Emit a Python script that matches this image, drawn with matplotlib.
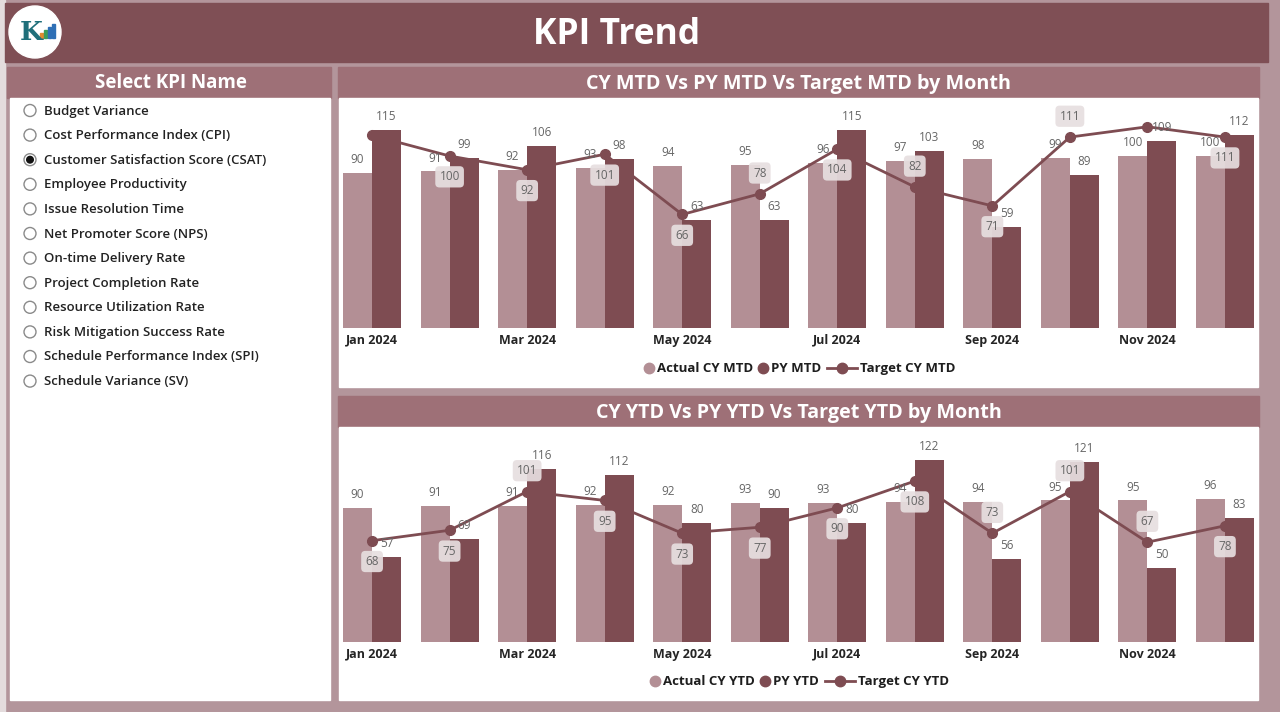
import numpy as np
import matplotlib
matplotlib.use("Agg")
import matplotlib.pyplot as plt
from matplotlib.patches import Rectangle, Circle

W, H = 1280, 712

# Date
months = ["Jan", "Feb", "Mar", "Apr", "May", "Jun",
          "Jul", "Aug", "Sep", "Oct", "Nov", "Dec"]
tick_months = ["Jan 2024", "Mar 2024", "May 2024", "Jul 2024", "Sep 2024", "Nov 2024"]

mtd_actual = [90, 91, 92, 93, 94, 95, 96, 97, 98, 99, 100, 100]
mtd_py = [115, 99, 106, 98, 63, 63, 115, 103, 59, 89, 109, 112]
mtd_target = [112, 100, 92, 101, 66, 78, 104, 82, 71, 111, 117, 111]

ytd_actual = [90, 91, 91, 92, 92, 93, 93, 94, 94, 95, 95, 96]
ytd_py = [57, 69, 116, 112, 80, 90, 80, 122, 56, 121, 50, 83]
ytd_target = [68, 75, 101, 95, 73, 77, 90, 108, 73, 101, 67, 78]

kpi_names = [
    "Budget Variance", "Cost Performance Index (CPI)",
    "Customer Satisfaction Score (CSAT)", "Employee Productivity",
    "Issue Resolution Time", "Net Promoter Score (NPS)",
    "On-time Delivery Rate", "Project Completion Rate",
    "Resource Utilization Rate", "Risk Mitigation Success Rate",
    "Schedule Performance Index (SPI)", "Schedule Variance (SV)",
]
selected_kpi = 2

# pozitia etichetelor target: 1 = sub punct, -1 = deasupra, 0 = ascunsa
mtd_lbl_pos = [0, 1, 1, 1, 1, -1, 1, -1, 1, -1, 0, 1]
ytd_lbl_pos = [1, 1, -1, 1, 1, 1, 1, 1, -1, -1, -1, 1]

# Culori
BG = "#B3959B"
HEADER = "#7F4F55"
BAR_TITLE = "#9E7077"
LIGHT = "#B38F95"
DARK = "#7E4C52"
FONT = "Open Sans"

plt.rcParams["font.family"] = [FONT, "DejaVu Sans"]

fig = plt.figure(figsize=(W / 100, H / 100), dpi=100)
fig.patch.set_facecolor(BG)
renderer = fig.canvas.get_renderer()


def box(x0, y0, x1, y1):
    return [x0 / W, 1 - y1 / H, (x1 - x0) / W, (y1 - y0) / H]


# Strat de fundal in coordonate pixel
bg = fig.add_axes([0, 0, 1, 1], zorder=0)
bg.set_xlim(0, W)
bg.set_ylim(H, 0)
bg.axis("off")

bg.add_patch(Rectangle((0, 0), 5, H, color="#E4DCDD"))
bg.add_patch(Rectangle((5, 3), 1263, 59, color=HEADER))
bg.text(617, 35, "KPI Trend", color="white", fontsize=25.5, fontweight="bold",
        ha="center", va="center")

# logo
bg.add_patch(Circle((35, 32), 26, color="white"))
bg.text(31, 32, "K", color="#1F6F7A", fontsize=19, fontweight="bold",
        ha="center", va="center", family="DejaVu Serif")
for i, (hh, c) in enumerate(zip([5, 8, 11, 14], ["#E08A2E", "#3B9E5A", "#2E6FB5", "#2E6FB5"])):
    bg.add_patch(Rectangle((40 + i * 4, 38 - hh), 3, hh, color=c))

# panou stanga
bg.add_patch(Rectangle((7, 67), 324, 31, color=BAR_TITLE))
bg.add_patch(Rectangle((10, 98), 320, 602, color="white"))
bg.text(171, 83, "Select KPI Name", color="white", fontsize=13.5, fontweight="bold",
        ha="center", va="center")
for i, name in enumerate(kpi_names):
    y = 110.5 + i * 24.6
    bg.add_patch(Circle((30, y), 6, fc="white", ec="#8A8A8A", lw=1))
    if i == selected_kpi:
        bg.add_patch(Circle((30, y), 3.3, color="#111111"))
    bg.text(44, y + 0.5, name, color="#222222", fontsize=9.5, fontweight="semibold",
            ha="left", va="center")

# panouri grafice
panels = [
    (67, 388, "CY MTD Vs PY MTD Vs Target MTD by Month"),
    (396, 701, "CY YTD Vs PY YTD Vs Target YTD by Month"),
]
for y0, y1, title in panels:
    bg.add_patch(Rectangle((338, y0), 921, 31, color=BAR_TITLE))
    bg.add_patch(Rectangle((339, y0 + 31), 919, y1 - y0 - 32, color="white"))
    bg.text(799, y0 + 17, title, color="white", fontsize=14.2, fontweight="bold",
            ha="center", va="center")


def draw_legend(names, x_start, y):
    # legenda desenata manual: cerc, cerc, linie cu marker
    x = x_start
    for k, name in enumerate(names):
        if k < 2:
            col = LIGHT if k == 0 else DARK
            bg.plot([x + 5], [y], marker="o", ms=7.5, color=col, ls="none")
            x += 13
        else:
            bg.plot([x + 1, x + 31], [y, y], color=DARK, lw=2)
            bg.plot([x + 16], [y], marker="o", ms=7.5, color=DARK)
            x += 34
        t = bg.text(x, y + 0.5, name, fontsize=9.5, fontweight="bold", color="#1E1E1E",
                    ha="left", va="center")
        ext = t.get_window_extent(renderer)
        x += ext.width + 5


def draw_chart(ax, actual, py, target, lbl_pos):
    x = np.arange(len(months))
    ax.bar(x - 0.1875, actual, width=0.375, color=LIGHT, zorder=1)
    ax.bar(x + 0.1875, py, width=0.375, color=DARK, zorder=1)
    ax.plot(x, target, color=DARK, lw=2, marker="o", ms=7, zorder=3)

    for i in range(len(months)):
        ax.annotate(str(actual[i]), (x[i] - 0.1875, actual[i]), xytext=(0, 5),
                    textcoords="offset points", ha="center", va="bottom",
                    fontsize=8.5, color="#666666", zorder=4)
        ax.annotate(str(py[i]), (x[i] + 0.1875, py[i]), xytext=(0, 5),
                    textcoords="offset points", ha="center", va="bottom",
                    fontsize=8.5, color="#666666", zorder=4)
        if lbl_pos[i] != 0:
            ax.annotate(str(target[i]), (x[i], target[i]), xytext=(0, -15 * lbl_pos[i]),
                        textcoords="offset points", ha="center", va="center",
                        fontsize=8.5, color="#666666", zorder=5,
                        bbox=dict(boxstyle="round,pad=0.35", fc="#E7DFE0",
                                  ec="none", alpha=0.92))

    ax.set_xlim(-0.375, 11.375)
    ax.set_xticks(x[::2])
    ax.set_xticklabels(tick_months, fontsize=9, fontweight="bold", color="#252525")
    ax.tick_params(length=0, pad=4)
    ax.set_yticks([])
    for s in ax.spines.values():
        s.set_visible(False)
    ax.patch.set_visible(False)


ax1 = fig.add_axes(box(343, 100, 1254, 328), zorder=2)
ax1.set_ylim(0, (328 - 100) / 1.72)
draw_chart(ax1, mtd_actual, mtd_py, mtd_target, mtd_lbl_pos)
draw_legend(["Actual CY MTD", "PY MTD", "Target CY MTD"], 644, 368)

ax2 = fig.add_axes(box(343, 430, 1254, 642), zorder=2)
ax2.set_ylim(0, (642 - 430) / 1.49)
draw_chart(ax2, ytd_actual, ytd_py, ytd_target, ytd_lbl_pos)
draw_legend(["Actual CY YTD", "PY YTD", "Target CY YTD"], 650, 681)

fig.savefig("out.png", dpi=100, facecolor=fig.get_facecolor())
